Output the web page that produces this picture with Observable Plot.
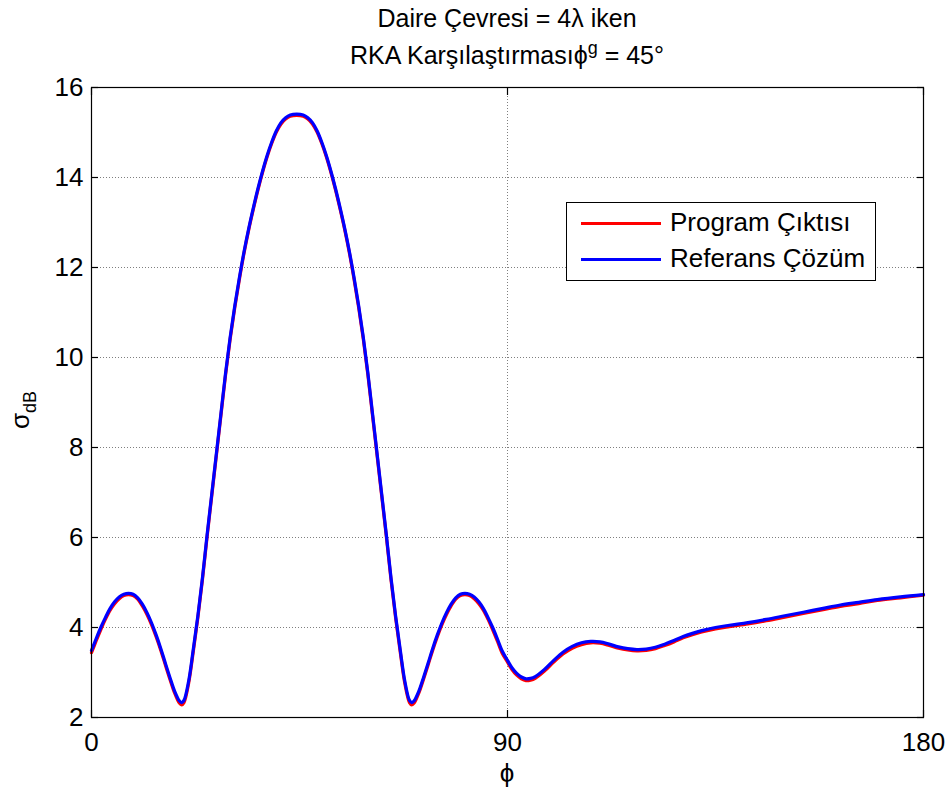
<!DOCTYPE html>
<html><head><meta charset="utf-8">
<script src="https://cdn.jsdelivr.net/npm/d3@7"></script>
<script src="https://cdn.jsdelivr.net/npm/@observablehq/plot@0.6"></script>
<style>
body{margin:0;background:#fff;font-family:"Liberation Sans",Arial,Helvetica,sans-serif;}
#wrap{position:relative;width:949px;height:794px;overflow:hidden;}
#chart{position:absolute;left:0;top:0;}
.t{position:absolute;left:91px;width:832px;text-align:center;font-size:25px;color:#000;white-space:nowrap;line-height:1;}
.t sup{font-size:18px;vertical-align:0;position:relative;top:-10px;}
#legend{position:absolute;left:566px;top:202px;width:308px;height:77px;border:1px solid #000;background:#fff;}
.li{position:absolute;left:0;height:36px;width:308px;}
.li .sw{position:absolute;left:14px;top:17px;width:80px;height:3px;}
.li .lt{position:absolute;left:103px;top:4px;font-size:26px;line-height:1;white-space:nowrap;}
#xl{position:absolute;left:497px;top:760px;width:20px;text-align:center;font-size:26px;line-height:1;}
#yl{position:absolute;left:20px;top:410px;font-size:26px;line-height:1;transform:translate(-50%,-50%) rotate(-90deg);white-space:nowrap;}
#yl sub{font-size:18px;vertical-align:0;position:relative;top:7px;}
</style></head>
<body>
<div id="wrap">
  <div id="chart"></div>
  <div class="t" style="top:6px">Daire Çevresi = 4λ iken</div>
  <div class="t" style="top:43px">RKA Karşılaştırmasıϕ<sup>g</sup> = 45°</div>
  <div id="legend"></div>
  <div id="xl">ϕ</div>
  <div id="yl">σ<sub>dB</sub></div>
</div>
<script>
const seriesNames = ["Program Çıktısı", "Referans Çözüm"];
const seriesColors = ["#ff0000", "#0000ff"];
const xTicks = [0, 90, 180];
const yTicks = [2, 4, 6, 8, 10, 12, 14, 16];

const phi = [
  0,1,2,3,4,5,6,7,8,9,10,11,12,13,14,15,16,17,18,19,19.5,20,21,22,23,24,25,26,27,28,29,30,31,32,33,34,35,36,37,38,39,40,41,42,43,44.4,
  45.8,46.8,47.8,48.8,49.8,50.8,51.8,52.8,53.8,54.8,55.8,56.8,57.8,58.8,59.8,60.8,61.8,62.8,63.8,64.8,65.8,66.8,67.8,68.8,69.3,69.8,70.8,71.8,72.8,73.8,74.8,75.8,76.8,77.8,78.8,79.8,80.8,81.8,82.8,83.8,84.8,85.8,86.8,87.8,88.8,
  90,91,92,93,94,95,96,98,100,102,104,106,108,110,112,114,116,118,120,122,124,126,128,130,132,135,138,142,146,150,154,158,162,166,170,175,180
];
const referans = [
  3.49,3.75,4.00,4.22,4.42,4.57,4.68,4.74,4.76,4.74,4.66,4.52,4.33,4.10,3.83,3.53,3.20,2.88,2.58,2.37,2.33,2.38,2.80,3.50,4.25,5.10,6.05,6.95,7.85,8.75,9.65,10.45,11.15,11.78,12.35,12.86,13.32,13.75,14.14,14.49,14.79,15.04,15.22,15.33,15.39,15.41,
  15.39,15.33,15.22,15.04,14.79,14.49,14.14,13.75,13.32,12.86,12.35,11.78,11.15,10.45,9.65,8.75,7.85,6.95,6.05,5.10,4.25,3.50,2.80,2.38,2.33,2.37,2.58,2.88,3.20,3.53,3.83,4.10,4.33,4.52,4.66,4.74,4.76,4.74,4.68,4.57,4.42,4.22,4.00,3.75,3.49,
  3.27,3.10,2.98,2.90,2.86,2.87,2.91,3.07,3.27,3.45,3.58,3.66,3.69,3.68,3.63,3.57,3.53,3.51,3.52,3.56,3.63,3.71,3.80,3.87,3.93,4.00,4.05,4.11,4.18,4.26,4.34,4.42,4.50,4.56,4.62,4.68,4.73
];
const program = [
  3.44,3.70,3.95,4.18,4.38,4.53,4.64,4.71,4.73,4.71,4.63,4.48,4.29,4.06,3.79,3.49,3.16,2.84,2.54,2.32,2.28,2.33,2.75,3.45,4.21,5.06,6.01,6.91,7.81,8.71,9.61,10.41,11.11,11.74,12.32,12.83,13.29,13.72,14.11,14.46,14.76,15.01,15.19,15.30,15.36,15.38,
  15.36,15.30,15.19,15.01,14.76,14.46,14.11,13.72,13.29,12.83,12.32,11.74,11.11,10.41,9.61,8.71,7.81,6.91,6.01,5.06,4.21,3.45,2.75,2.33,2.28,2.32,2.54,2.84,3.16,3.49,3.79,4.06,4.29,4.48,4.63,4.71,4.73,4.71,4.64,4.53,4.38,4.18,3.95,3.70,3.44,
  3.23,3.06,2.94,2.86,2.82,2.83,2.87,3.03,3.23,3.41,3.54,3.62,3.66,3.65,3.60,3.54,3.50,3.48,3.49,3.53,3.60,3.68,3.77,3.84,3.90,3.97,4.02,4.08,4.15,4.23,4.31,4.39,4.47,4.53,4.60,4.66,4.72
];

const data = phi.map((p, i) => ({phi: p, program: program[i], referans: referans[i]}));
const gridStyle = {stroke: "#7f7f7f", strokeOpacity: 1, strokeWidth: 1, strokeDasharray: "1,2"};

const chart = Plot.plot({
  width: 949, height: 794,
  marginLeft: 91, marginRight: 26, marginTop: 87, marginBottom: 77,
  x: {domain: [0, 180]},
  y: {domain: [2, 16]},
  style: {fontFamily: '"Liberation Sans", Arial, sans-serif', fontSize: "26px", color: "#000", background: "#fff", overflow: "visible"},
  marks: [
    Plot.gridY(yTicks, gridStyle),
    Plot.gridX([90], gridStyle),
    Plot.line(data, {x: "phi", y: "program", stroke: seriesColors[0], strokeWidth: 3.2, curve: "catmull-rom"}),
    Plot.line(data, {x: "phi", y: "referans", stroke: seriesColors[1], strokeWidth: 3.2, curve: "catmull-rom"}),
    Plot.frame({stroke: "#000", strokeWidth: 1.2}),
    Plot.axisX(xTicks, {anchor: "bottom", tickSize: -7, tickPadding: 22, label: null, stroke: "#000", strokeWidth: 1.2, fill: "#000"}),
    Plot.axisX(xTicks, {anchor: "top", tickSize: -7, tickFormat: () => "", label: null, stroke: "#000", strokeWidth: 1.2}),
    Plot.axisY(yTicks, {anchor: "left", tickSize: -7, tickPadding: 15, label: null, stroke: "#000", strokeWidth: 1.2, fill: "#000"}),
    Plot.axisY(yTicks, {anchor: "right", tickSize: -7, tickFormat: () => "", label: null, stroke: "#000", strokeWidth: 1.2})
  ]
});
document.getElementById("chart").appendChild(chart);

const legend = document.getElementById("legend");
seriesNames.forEach((name, i) => {
  const row = document.createElement("div");
  row.className = "li";
  row.style.top = (i * 36 + 2) + "px";
  row.innerHTML = `<div class="sw" style="background:${seriesColors[i]}"></div><div class="lt">${name}</div>`;
  legend.appendChild(row);
});
</script>
</body></html>
